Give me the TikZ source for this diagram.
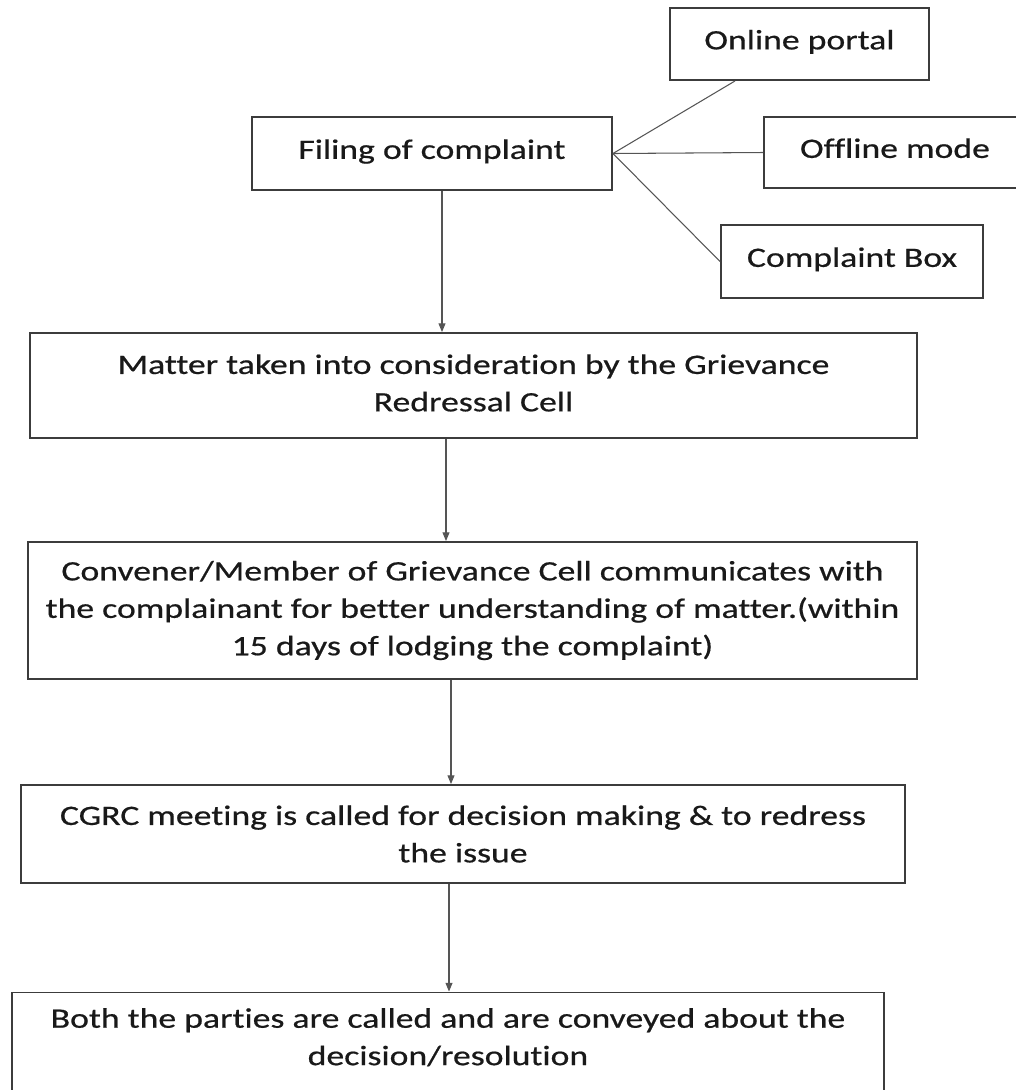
\documentclass[tikz,border=0pt]{standalone}
\usepackage{fontspec}
\setmainfont{Carlito}[FakeStretch=1.27, FakeBold=0.6, Ligatures=NoCommon]
\usetikzlibrary{arrows.meta}
\definecolor{edgegray}{RGB}{60,60,60}
\definecolor{linkgray}{RGB}{85,85,85}
\newlength\px
\setlength\px{0.02cm}

\begin{document}
\begin{tikzpicture}[x=0.02cm, y=-0.02cm, >={Triangle[length=5pt,width=4pt]},
    stage/.style={draw=edgegray, line width=1.1pt, align=center, inner sep=0pt,
        font=\fontsize{16}{21.3}\selectfont, text=black!90},
    lifted/.style={text depth=0.5em},
    link/.style={linkgray, line width=0.6pt}]
    \useasboundingbox (0,0) rectangle (1016,1090);
    \clip (0,0) rectangle (1016,1090);
    % ways of filing
    \node[stage, lifted, minimum width=259\px, minimum height=72\px] (online) at (799.5,44) {Online portal};
    \node[stage, lifted, minimum width=360\px, minimum height=73\px] (filing) at (432,153.5) {Filing of complaint};
    \node[stage, lifted, minimum width=262\px, minimum height=71\px] (offline) at (895,152.5) {Offline mode};
    \node[stage, lifted, minimum width=262\px, minimum height=73\px] (cbox) at (852,261.5) {Complaint Box};
    \draw[link] (filing.east) -- (online.south -| 735,0);
    \draw[link] (filing.east) -- (offline.west);
    \draw[link] (filing.east) -- (cbox.west);
    % main steps
    \node[stage, text depth=0.3em, minimum width=887\px, minimum height=105\px] (matter) at (473.5,385.5)
        {Matter taken into consideration by the Grievance\\Redressal Cell};
    \node[stage, minimum width=889\px, minimum height=137\px] (convener) at (472.5,610.5)
        {Convener/Member of Grievance Cell communicates with\\the complainant for better understanding of matter.(within\\15 days of lodging the complaint)};
    \node[stage, minimum width=884\px, minimum height=98\px] (cgrc) at (463,834)
        {CGRC meeting is called for decision making \& to redress\\the issue};
    \node[stage, minimum width=872\px, minimum height=137\px] (both) at (448,1061)
        {Both the parties are called and are conveyed about the\\decision/resolution\\ \strut};
    \draw[link, ->] (filing.south -| 442,0) -- (matter.north -| 442,0);
    \draw[link, ->] (matter.south -| 446,0) -- (convener.north -| 446,0);
    \draw[link, ->] (convener.south -| 451,0) -- (cgrc.north -| 451,0);
    \draw[link, ->] (cgrc.south -| 449,0) -- (both.north -| 449,0);
\end{tikzpicture}
\end{document}
